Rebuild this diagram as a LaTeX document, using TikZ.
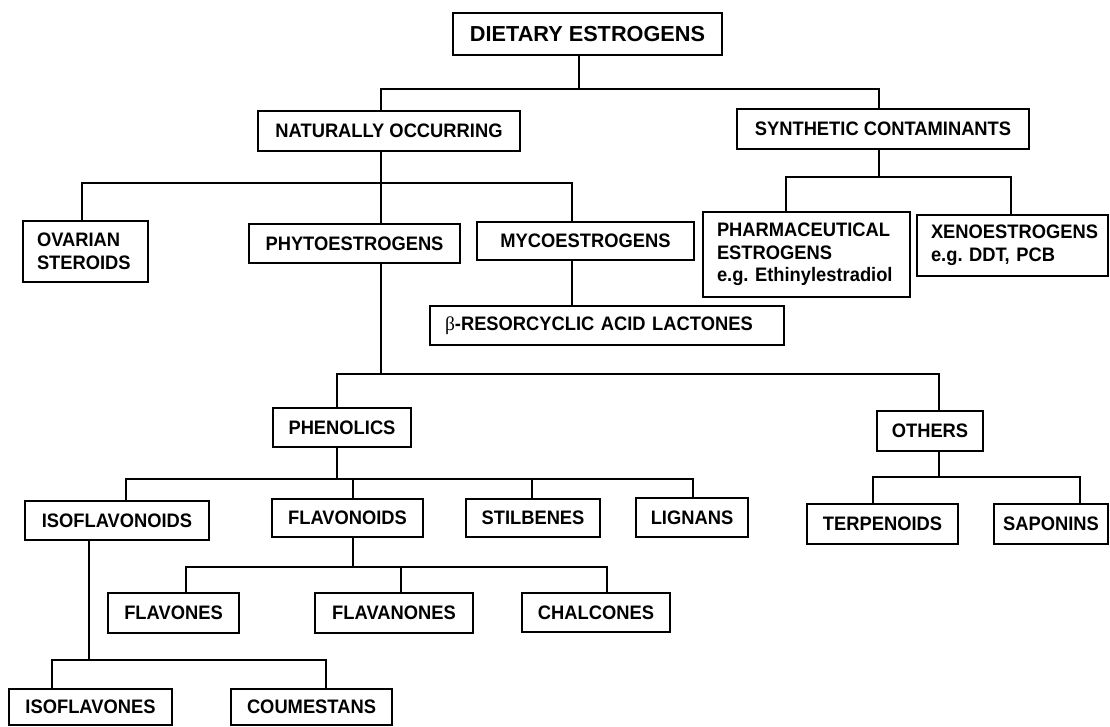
\documentclass[tikz,border=0pt]{standalone}
\usepackage{fontspec}
\setmainfont{Liberation Sans}
\newfontfamily\bodyfont{Liberation Sans}[FakeStretch=0.94]
\newfontfamily\titlefont{Liberation Sans}
\newfontfamily\greekserif{Liberation Serif}
\frenchspacing
\begin{document}
\begin{tikzpicture}[x=1pt,y=-1pt,
  box/.style={draw, line width=2.7pt, inner sep=0pt, align=center,
    font=\bodyfont\bfseries\fontsize{19.5}{22.5}\selectfont},
  lbox/.style={box, align=left, inner xsep=14pt},
  conn/.style={line width=2.6pt}]
\useasboundingbox (0,0) rectangle (1110,727);

% ---------- boxes ----------
\node[box, minimum width=269pt, minimum height=42pt,
  font=\titlefont\bfseries\fontsize{21.7}{25}\selectfont] (dietary) at (587.5,34) {DIETARY ESTROGENS};
\node[box, minimum width=262pt, minimum height=40pt] (natural) at (389,131) {NATURALLY OCCURRING};
\node[box, minimum width=292pt, minimum height=40pt] (synthetic) at (883,129) {SYNTHETIC CONTAMINANTS};

\node[lbox, text width=97pt, minimum height=61pt] (ovarian) at (85.5,251.5) {OVARIAN\\STEROIDS};
\node[box, minimum width=211pt, minimum height=39pt] (phyto) at (354.5,243.5) {PHYTOESTROGENS};
\node[box, minimum width=217pt, minimum height=38pt] (myco) at (585.5,241) {MYCOESTROGENS};
\node[lbox, text width=179pt, minimum height=85pt] (pharma) at (806.5,254.5) {PHARMACEUTICAL\\ESTROGENS\\e.g. Ethinylestradiol};
\node[lbox, text width=163pt, minimum height=61pt] (xeno) at (1012.5,245.5) {XENOESTROGENS\\e.g. DDT, PCB};

\node[lbox, inner xsep=15pt, text width=324pt, minimum height=39pt] (beta) at (607,325.5)
  {{\greekserif\mdseries β}-RESORCYCLIC ACID LACTONES};

\node[box, minimum width=138pt, minimum height=39pt] (phenolics) at (342,427.5) {PHENOLICS};
\node[box, minimum width=106pt, minimum height=40pt] (others) at (930,431) {OTHERS};

\node[box, minimum width=184pt, minimum height=39pt] (isoflavonoids) at (117,520.5) {ISOFLAVONOIDS};
\node[box, minimum width=151pt, minimum height=38pt] (flavonoids) at (347.5,518) {FLAVONOIDS};
\node[box, minimum width=134pt, minimum height=38pt] (stilbenes) at (533,518) {STILBENES};
\node[box, minimum width=112pt, minimum height=39pt] (lignans) at (692,517.5) {LIGNANS};
\node[box, minimum width=151pt, minimum height=40pt] (terpenoids) at (882.5,524) {TERPENOIDS};
\node[box, minimum width=114pt, minimum height=40pt] (saponins) at (1051,524) {SAPONINS};

\node[box, minimum width=131pt, minimum height=40pt] (flavones) at (173.5,613) {FLAVONES};
\node[box, minimum width=158pt, minimum height=40pt] (flavanones) at (394,613) {FLAVANONES};
\node[box, minimum width=148pt, minimum height=39pt] (chalcones) at (596,612.5) {CHALCONES};

\node[box, minimum width=163pt, minimum height=36pt] (isoflavones) at (90.5,707) {ISOFLAVONES};
\node[box, minimum width=161pt, minimum height=36pt] (coumestans) at (311.5,707) {COUMESTANS};

% ---------- bus junctions and drop positions ----------
\coordinate (bA) at (579,89);
\coordinate (bB) at (381,183);
\coordinate (bC) at (879,177);
\coordinate (bD) at (381,374);
\coordinate (bE) at (337,479);
\coordinate (bF) at (939,477);
\coordinate (bG) at (353,567);
\coordinate (bH) at (89,660);

\coordinate (xNat) at (381,0);
\coordinate (xSyn) at (879,0);
\coordinate (xOva) at (82,0);
\coordinate (xMyc) at (572,0);
\coordinate (xPha) at (786,0);
\coordinate (xXen) at (1011,0);
\coordinate (xPhe) at (337,0);
\coordinate (xOth) at (939,0);
\coordinate (xIfd) at (126,0);
\coordinate (xFlv) at (353,0);
\coordinate (xSti) at (532,0);
\coordinate (xLig) at (693,0);
\coordinate (xTer) at (873,0);
\coordinate (xSap) at (1080,0);
\coordinate (xFle) at (186,0);
\coordinate (xFla) at (401,0);
\coordinate (xCha) at (607,0);
\coordinate (xIfl) at (52,0);
\coordinate (xCou) at (326,0);

% ---------- connectors ----------
\draw[conn] (dietary.south -| bA) -- (bA);
\draw[conn] (natural.north -| xNat) |- (bA) -| (synthetic.north -| xSyn);

\draw[conn] (natural.south -| bB) -- (phyto.north -| bB);
\draw[conn] (ovarian.north -| xOva) |- (bB) -| (myco.north -| xMyc);
\draw[conn] (myco.south -| xMyc) -- (beta.north -| xMyc);

\draw[conn] (synthetic.south -| bC) -- (bC);
\draw[conn] (pharma.north -| xPha) |- (bC) -| (xeno.north -| xXen);

\draw[conn] (phyto.south -| bD) -- (bD);
\draw[conn] (phenolics.north -| xPhe) |- (bD) -| (others.north -| xOth);

\draw[conn] (phenolics.south -| bE) -- (bE);
\draw[conn] (isoflavonoids.north -| xIfd) |- (bE) -| (lignans.north -| xLig);
\draw[conn] (flavonoids.north -| xFlv) -- (xFlv |- bE);
\draw[conn] (stilbenes.north -| xSti) -- (xSti |- bE);

\draw[conn] (others.south -| bF) -- (bF);
\draw[conn] (terpenoids.north -| xTer) |- (bF) -| (saponins.north -| xSap);

\draw[conn] (flavonoids.south -| bG) -- (bG);
\draw[conn] (flavones.north -| xFle) |- (bG) -| (chalcones.north -| xCha);
\draw[conn] (flavanones.north -| xFla) -- (xFla |- bG);

\draw[conn] (isoflavonoids.south -| bH) -- (bH);
\draw[conn] (isoflavones.north -| xIfl) |- (bH) -| (coumestans.north -| xCou);
\end{tikzpicture}
\end{document}
